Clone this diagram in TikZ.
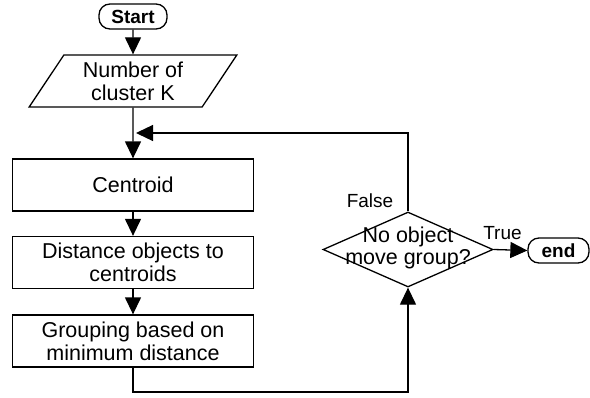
\documentclass[tikz,border=0pt]{standalone}
\usepackage{fontspec}
\setmainfont{Liberation Sans}
\usetikzlibrary{arrows.meta,shapes.geometric}

\tikzset{
  wire/.style={line width=1.3pt},
  arr/.style={wire, -{Triangle[width=16pt,length=17pt]}},
  stepbox/.style={draw, wire, minimum width=241, minimum height=52, inner sep=0,
    align=center, font=\fontsize{21.5}{23}\selectfont},
  terminal/.style={draw, wire, rounded corners=11pt, minimum height=25, inner sep=0,
    font=\fontsize{19}{20}\selectfont\bfseries},
  iobox/.style={draw, wire, trapezium, trapezium left angle=57, trapezium right angle=123,
    trapezium stretches=true, minimum width=208, minimum height=52, inner sep=0,
    align=center, font=\fontsize{21.5}{23}\selectfont},
  decision/.style={draw, wire, diamond, minimum width=170, minimum height=75, inner sep=0},
  tag/.style={inner sep=0, font=\fontsize{19}{20}\selectfont},
}

\begin{document}
\begin{tikzpicture}[x=1pt,y=-1pt]
\useasboundingbox (0,0) rectangle (590,397);

% process chain
\node[terminal, minimum width=68] (start) at (133,16.5) {Start};
\node[iobox] (num) at (133,81) {Number of\\cluster K};
\node[stepbox] (cent) at (133,185) {Centroid};
\node[stepbox] (dist) at (133,262.5) {Distance objects to\\centroids};
\node[stepbox] (grp) at (133,341) {Grouping based on\\minimum distance};

% termination test
\node[decision] (dec) at (408,249.5) {};
\node[align=center, inner sep=0, font=\fontsize{21.5}{22}\selectfont] (dectext) at (408,248) {No object\\move group?};
\node[terminal, minimum width=61] (end) at (558.5,250.5) {end};

% joining point of the loop
\coordinate (merge) at (133,133);
\coordinate (mergeR) at (136,133);
\coordinate (low) at (133,392);

\draw[arr] (start) -- (num);
\draw[arr] (num.south) -- (cent.north);
\draw[arr] (cent) -- (dist);
\draw[arr] (dist) -- (grp);
\draw[arr] (grp.south) -- (low) -| (dec.south);
\draw[arr] (dec.north) |- (mergeR);
\draw[arr] (dec.east) -- (end.west);

% branch labels
\node[tag] (lfalse) at (370,201) {False};
\node[tag] (ltrue) at (502.5,233) {True};
\end{tikzpicture}
\end{document}
